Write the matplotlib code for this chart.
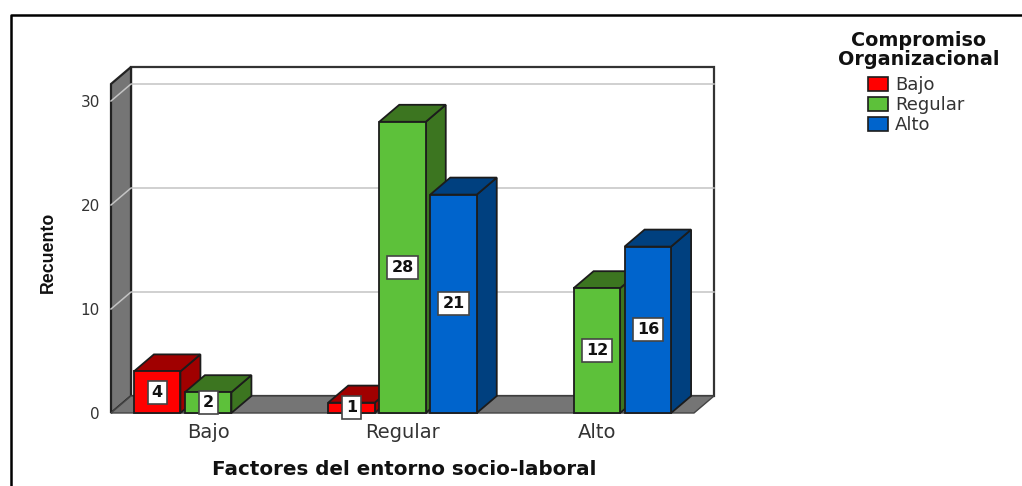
import matplotlib
matplotlib.use("Agg")
import matplotlib.pyplot as plt
from matplotlib.patches import Polygon, Patch
from matplotlib.lines import Line2D

# Datos
categorias = ["Bajo", "Regular", "Alto"]
series = ["Bajo", "Regular", "Alto"]
valores_bajo = [4, 1, 0]
valores_regular = [2, 28, 12]
valores_alto = [0, 21, 16]
ticks_y = [0, 10, 20, 30]

colores = ["#ff0000", "#5dc13a", "#0064cc"]
oscuros = ["#a00000", "#3c7520", "#00407f"]
gris = "#757575"
borde = "#1c1c1c"

W, H = 1022, 486
fig = plt.figure(figsize=(W / 100, H / 100), dpi=100)
x0, x1, y0, y1 = 111, 694, 413, 67
ax = fig.add_axes([x0 / W, 1 - y0 / H, (x1 - x0) / W, (y0 - y1) / H])
ax.set_xlim(-0.5, 2.5)
ax.set_ylim(0, (y0 - y1) / 10.4)
for s in ax.spines.values():
    s.set_visible(False)

# profundidad de la perspectiva en unidades de datos
dx = 20 / ((x1 - x0) / 3)
dy = 17 / 10.4
ancho = 46.5 / ((x1 - x0) / 3)
paso = 51 / ((x1 - x0) / 3)
xmin, xmax = -0.5, 2.5
ymax = ax.get_ylim()[1] - dy


def poli(pts, color, z, ec=borde, lw=1.3):
    ax.add_patch(Polygon(pts, closed=True, fc=color, ec=ec, lw=lw, zorder=z, clip_on=False))


# paredes
poli([(xmin + dx, dy), (xmax + dx, dy), (xmax + dx, ymax + dy), (xmin + dx, ymax + dy)], "white", 1, ec="#333333", lw=1.6)
poli([(xmin, 0), (xmin + dx, dy), (xmin + dx, ymax + dy), (xmin, ymax)], gris, 2, ec="#222222", lw=1.6)
poli([(xmin, 0), (xmin + dx, dy), (xmax + dx, dy), (xmax, 0)], gris, 2, ec="#444444", lw=1.0)
for t in ticks_y[1:]:
    ax.add_line(Line2D([xmin, xmin + dx, xmax + dx], [t, t + dy, t + dy], color="#c4c4c4", lw=1.1, zorder=3, clip_on=False))

# barras
z = 4
for i, vals in enumerate([valores_bajo, valores_regular, valores_alto]):
    for c, v in enumerate(vals):
        if v == 0:
            continue
        izq = c + (i - 1) * paso - ancho / 2
        der = izq + ancho
        poli([(der, 0), (der + dx, dy), (der + dx, v + dy), (der, v)], oscuros[i], z + c * 10 + i)
        poli([(izq, v), (der, v), (der + dx, v + dy), (izq + dx, v + dy)], oscuros[i], z + c * 10 + i)
        poli([(izq, 0), (der, 0), (der, v), (izq, v)], colores[i], z + c * 10 + i)
        ax.text((izq + der) / 2, v / 2, str(v), ha="center", va="center", fontsize=11.5, fontweight="bold",
                color="#111111", zorder=60,
                bbox=dict(boxstyle="square,pad=0.25", fc="white", ec="#444444", lw=1.2))

ax.set_xticks(range(3))
ax.set_xticklabels(categorias, fontsize=14, color="#333333")
ax.set_yticks(ticks_y)
ax.set_yticklabels([str(t) for t in ticks_y], fontsize=11, color="#333333")
ax.tick_params(length=0)
ax.tick_params(axis="x", pad=7)
ax.tick_params(axis="y", pad=8)
ax.patch.set_visible(False)

fig.text(404 / W, 1 - 469 / H, "Factores del entorno socio-laboral", ha="center", va="center",
         fontsize=14.3, fontweight="bold", color="#111111")
fig.text(48 / W, 1 - 252 / H, "Recuento", rotation=90, ha="center", va="center", fontsize=12.8,
         fontweight="bold", color="#111111", family="Liberation Sans")

# leyenda
handles = [Patch(fc=colores[i], ec=borde, lw=1.2, label=series[i]) for i in range(3)]
fig.legend(handles=handles, loc="upper left", bbox_to_anchor=(868 / W, 1 - 76 / H), frameon=False,
           fontsize=13, labelcolor="#333333", handlelength=1.1, handleheight=0.78,
           handletextpad=0.4, labelspacing=0.12, borderpad=0, borderaxespad=0)
fig.text(919 / W, 1 - 50 / H, "Compromiso\nOrganizacional", ha="center", va="center", fontsize=13.8,
         fontweight="bold", color="#111111", linespacing=0.95)

# marco
fig.add_artist(Line2D([11 / W, 11 / W, 1], [0, 1 - 15 / H, 1 - 15 / H], color="black", lw=1.8))

fig.savefig("out.png", dpi=100)
